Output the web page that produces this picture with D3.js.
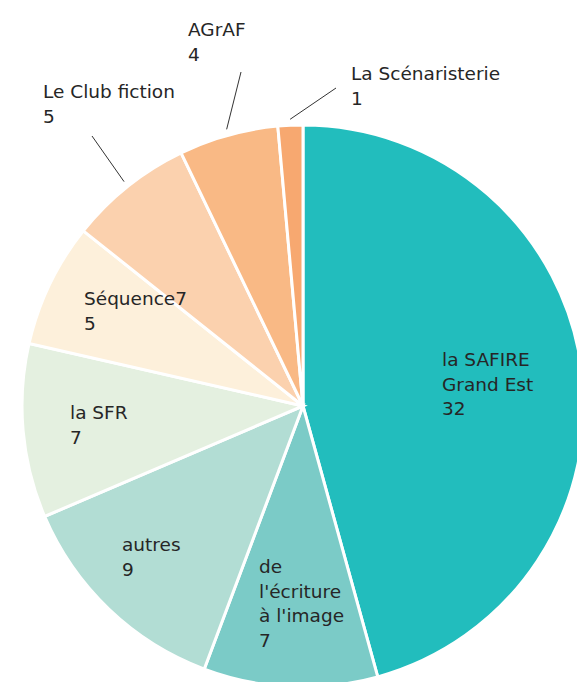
<!DOCTYPE html>
<html>
<head>
<meta charset="utf-8">
<script src="https://cdn.jsdelivr.net/npm/d3@7"></script>
<style>
  html, body { margin: 0; padding: 0; background: #fff; }
  svg text { font-family: "DejaVu Sans", "Noto Sans", sans-serif; font-size: 18.5px; fill: #262626; }
</style>
</head>
<body>
<script>
// values, clockwise from 12 o'clock
const names = ['la SAFIRE Grand Est', "de l'écriture à l'image", 'autres', 'la SFR', 'Séquence7', 'Le Club fiction', 'AGrAF', 'La Scénaristerie'];
const values = [32, 7, 9, 7, 5, 5, 4, 1];
const colors = ['#22bdbd', '#7bcbc7', '#b2ddd4', '#e4f0e0', '#fdf0db', '#fbd1ae', '#f9b985', '#f7a870'];

// how each label is broken and where it sits
const labelLines = [['la SAFIRE', 'Grand Est'], ['de', "l'écriture", "à l'image"], ['autres'], ['la SFR'], ['Séquence7'], ['Le Club fiction'], ['AGrAF'], ['La Scénaristerie']];
const labelAt = [[442, 366], [259, 573], [122, 551], [70, 419], [84, 305], [43, 98], [188, 36], [351, 80]];
const leaderEnd = [null, null, null, null, null, [92, 136], [241, 72], [336, 88]];

const W = 577, H = 682;
const cx = 303, cy = 406, r = 281;

const svg = d3.select('body').append('svg')
  .attr('width', W)
  .attr('height', H);

const pie = d3.pie().sort(null).value(d => d)(values);
const arc = d3.arc().innerRadius(0).outerRadius(r);

const g = svg.append('g').attr('transform', 'translate(' + [cx, cy] + ')');

g.selectAll('path')
  .data(pie)
  .enter()
  .append('path')
  .attr('d', arc)
  .attr('fill', (d, i) => colors[i])
  .attr('stroke', '#fff')
  .attr('stroke-width', 3);

// leader lines for the small slices outside the pie
pie.forEach((d, i) => {
  if (!leaderEnd[i]) return;
  const a = (d.startAngle + d.endAngle) / 2;
  const rr = r + 6;
  svg.append('line')
    .attr('x1', cx + rr * Math.sin(a))
    .attr('y1', cy - rr * Math.cos(a))
    .attr('x2', leaderEnd[i][0])
    .attr('y2', leaderEnd[i][1])
    .attr('stroke', '#333')
    .attr('stroke-width', 1);
});

const lh = 24.5;
names.forEach((n, i) => {
  const t = svg.append('text')
    .attr('x', labelAt[i][0])
    .attr('y', labelAt[i][1]);
  labelLines[i].concat([String(values[i])]).forEach((s, j) => {
    t.append('tspan')
      .attr('x', labelAt[i][0])
      .attr('dy', j === 0 ? 0 : lh)
      .text(s);
  });
});
</script>
</body>
</html>
